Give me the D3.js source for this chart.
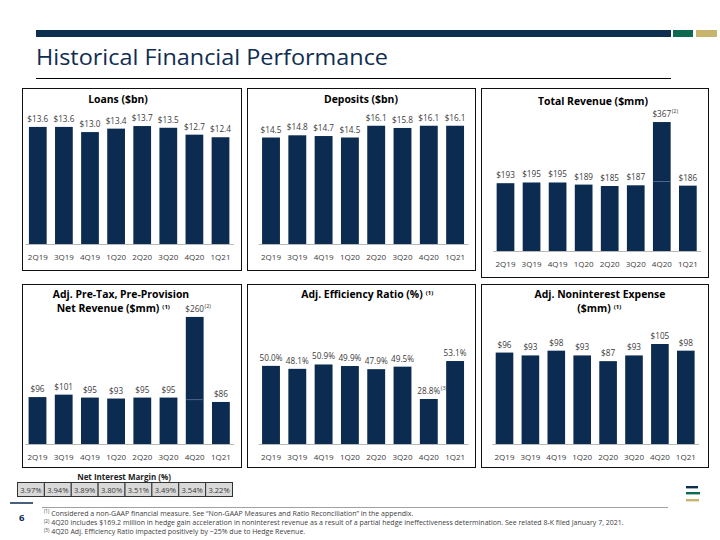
<!DOCTYPE html>
<html><head><meta charset="utf-8">
<script src="https://cdn.jsdelivr.net/npm/d3@7"></script>
<style>body{margin:0;background:#fff}svg{display:block;font-family:"Open Sans",sans-serif}</style>
</head><body>
<svg id="c" width="720" height="540"></svg>
<script>
// ---------- data ----------
const categories = ["2Q19","3Q19","4Q19","1Q20","2Q20","3Q20","4Q20","1Q21"];
const loans      = [13.6,13.6,13.0,13.4,13.7,13.5,12.7,12.4];
const deposits   = [14.5,14.8,14.7,14.5,16.1,15.8,16.1,16.1];
const revenue    = [193,195,195,189,185,187,367,186];
const ppnr       = [96,101,95,93,95,95,260,86];
const efficiency = [50.0,48.1,50.9,49.9,47.9,49.5,28.8,53.1];
const nonintExp  = [96,93,98,93,87,93,105,98];
const nim        = [3.97,3.94,3.89,3.80,3.51,3.49,3.54,3.22];
const hedgeGain  = 169.2;
const footnotes = [
  ["(1)","Considered a non-GAAP financial measure. See \u201CNon-GAAP Measures and Ratio Reconciliation\u201D in the appendix."],
  ["(2)","4Q20 includes $169.2 million in hedge gain acceleration in noninterest revenue as a result of a partial hedge ineffectiveness determination. See related 8-K filed January 7, 2021."],
  ["(3)","4Q20 Adj. Efficiency Ratio impacted positively by ~25% due to Hedge Revenue."]
];

// ---------- styles / layout ----------
const NAVY = "#0c2b50", TXT = "#3a3a3a";
const svg = d3.select("#c");

// header
svg.append("rect").attr("x",36).attr("y",30).attr("width",635).attr("height",7).attr("fill","#0e2e4f");
svg.append("rect").attr("x",673).attr("y",30).attr("width",20).attr("height",7).attr("fill","#0d6a50");
svg.append("rect").attr("x",696).attr("y",30).attr("width",21).attr("height",7).attr("fill","#c8b46c");
svg.append("text").attr("x",36).attr("y",65).attr("font-size",22).attr("fill","#0f2d52")
  .attr("textLength",352).attr("lengthAdjust","spacingAndGlyphs")
  .text("Historical Financial Performance");
svg.append("line").attr("x1",36).attr("x2",671).attr("y1",78.5).attr("y2",78.5).attr("stroke","#000").attr("stroke-width",1);

const dollar1 = v => "$" + v.toFixed(1);
const dollar0 = v => "$" + v.toFixed(0);
const pct1 = v => v.toFixed(1) + "%";

const panels = [
  {values:loans, fmt:dollar1, title:[{t:"Loans ($bn)"}], box:[22,88,241,270], titleX:118, titleY:[103],
   base:244, labelY:260, dmax:15.1, c0:37.8, step:26.1},
  {values:deposits, fmt:dollar1, title:[{t:"Deposits ($bn)"}], box:[247,88,475,270], titleX:361, titleY:[103],
   base:244, labelY:260, dmax:17.7, c0:271, step:26.3},
  {values:revenue, fmt:dollar0, title:[{t:"Total Revenue ($mm)"}], box:[481,88,708,277], titleX:593, titleY:[105],
   base:251, labelY:267, dmax:370, c0:505.5, step:26.05, split:6, note:{i:6,s:"(2)"}},
  {values:ppnr, fmt:dollar0, title:[{t:"Adj. Pre-Tax, Pre-Provision"},{t:"Net Revenue ($mm)",s:"(1)"}], box:[22,284,241,467], titleX:121, titleX2:108, titleY:[298,312],
   base:444, labelY:460, dmax:266, c0:37.5, step:26.2, split:6, note:{i:6,s:"(2)"}},
  {values:efficiency, fmt:pct1, title:[{t:"Adj. Efficiency Ratio (%)",s:"(1)"}], box:[247,284,475,467], titleX:362, titleY:[298],
   base:444, labelY:460, dmax:83.2, c0:271, step:26.3, note:{i:6,s:"(3)"}},
  {values:nonintExp, fmt:dollar0, title:[{t:"Adj. Noninterest Expense"},{t:"($mm)",s:"(1)"}], box:[481,284,708,467], titleX:600, titleX2:594, titleY:[298,312],
   base:444, labelY:460, dmax:136.5, c0:504.5, step:25.9}
];

const PI = 0.32, PO = 0.15, N = categories.length;
panels.forEach(p => {
  const g = svg.append("g");
  const [x0,y0,x1,y1] = p.box;
  g.append("rect").attr("x",x0+0.5).attr("y",y0+0.5).attr("width",x1-x0).attr("height",y1-y0)
    .attr("fill","none").attr("stroke","#111").attr("stroke-width",1);
  // titles
  p.title.forEach((ln,k) => {
    const tx = (k===1 && p.titleX2!=null) ? p.titleX2 : p.titleX;
    const t = g.append("text").attr("x",tx).attr("y",p.titleY[k]).attr("text-anchor","middle")
      .attr("font-size",10.4).attr("font-weight","bold").attr("fill","#000").text(ln.t);
    if (ln.s) {
      const w = t.node().getComputedTextLength();
      g.append("text").attr("x",tx + w/2 + 3).attr("y",p.titleY[k]-3).attr("font-size",6)
        .attr("font-weight","bold").attr("fill","#000").text(ln.s);
    }
  });
  // scales
  const s = p.step;
  const r0 = p.c0 - PO*s - s*(1-PI)/2;
  const r1 = r0 + s*(N - PI + 2*PO);
  const x = d3.scaleBand().domain(categories).range([r0,r1]).paddingInner(PI).paddingOuter(PO);
  const y = d3.scaleLinear().domain([0,p.dmax]).range([p.base, p.base-130]);
  // bars
  g.selectAll("rect.bar").data(p.values).join("rect").attr("class","bar")
    .attr("x",(d,i)=>x(categories[i])).attr("width",x.bandwidth())
    .attr("y",d=>y(d)).attr("height",d=>p.base-y(d)).attr("fill",NAVY);
  if (p.split!=null) {
    const v = p.values[p.split] - hedgeGain;
    g.append("line").attr("x1",x(categories[p.split])).attr("x2",x(categories[p.split])+x.bandwidth())
      .attr("y1",y(v)).attr("y2",y(v)).attr("stroke","#5f7593").attr("stroke-width",0.8);
  }
  // axis
  const ax = g.append("g").attr("transform",`translate(0,${p.base})`)
    .call(d3.axisBottom(x).tickSize(0).tickPadding(0));
  ax.select(".domain").attr("stroke","#b8b8b8").attr("stroke-width",1.2);
  ax.selectAll("text").attr("y",p.labelY-p.base).attr("dy",0).attr("font-size",8)
    .attr("font-family","Open Sans").attr("fill",TXT);
  // value labels
  g.selectAll("text.val").data(p.values).join("text").attr("class","val")
    .attr("x",(d,i)=>x(categories[i])+x.bandwidth()/2).attr("y",d=>y(d)-5)
    .attr("text-anchor","middle").attr("font-size",8.2).attr("fill",TXT).text(d=>p.fmt(d));
  if (p.note) {
    const d = p.values[p.note.i];
    const cx = x(categories[p.note.i])+x.bandwidth()/2;
    const lbl = g.selectAll("text.val").filter((dd,i)=>i===p.note.i);
    const w = lbl.node().getComputedTextLength();
    g.append("text").attr("x",cx + w/2 + 0.5).attr("y",y(d)-9).attr("font-size",5.5).attr("fill",TXT).text(p.note.s);
  }
});

// NIM table
svg.append("text").attr("x",124).attr("y",480).attr("text-anchor","middle").attr("font-size",8)
  .attr("font-weight","bold").attr("fill","#222").text("Net Interest Margin (%)");
const tx = d3.scaleBand().domain(categories).range([17,232]);
const cells = svg.append("g");
cells.selectAll("rect").data(nim).join("rect")
  .attr("x",(d,i)=>tx(categories[i])+0.5).attr("y",482.5).attr("width",tx.bandwidth()).attr("height",14)
  .attr("fill","#d9d9d9").attr("stroke","#333").attr("stroke-width",1);
cells.selectAll("text").data(nim).join("text")
  .attr("x",(d,i)=>tx(categories[i])+tx.bandwidth()/2+0.5).attr("y",492.5).attr("text-anchor","middle")
  .attr("font-size",7.6).attr("fill",TXT).text(d=>d.toFixed(2)+"%");

// footer
svg.append("line").attr("x1",10).attr("x2",33).attr("y1",503).attr("y2",503).attr("stroke",NAVY).attr("stroke-width",1.5);
svg.append("text").attr("x",19).attr("y",521).attr("font-size",9.5).attr("font-weight","bold").attr("fill",NAVY).text("6");
svg.append("line").attr("x1",42).attr("x2",668).attr("y1",507.5).attr("y2",507.5).attr("stroke","#a0a0a0").attr("stroke-width",1);
footnotes.forEach((f,k) => {
  const t = svg.append("text").attr("x",44).attr("y",515.5+k*9.2).attr("font-size",7).attr("fill","#404040");
  t.append("tspan").attr("font-size",4.6).attr("dy",-2.2).text(f[0]);
  t.append("tspan").attr("dy",2.2).text(" " + f[1]);
});
// logo
[["#0e2e4f",487,12],["#0d6a50",493,14],["#c8b46c",500,13]].forEach(([c,yy,w])=>{
  svg.append("rect").attr("x",686).attr("y",yy-1).attr("width",w).attr("height",2.4).attr("fill",c);
});
</script>
</body></html>
